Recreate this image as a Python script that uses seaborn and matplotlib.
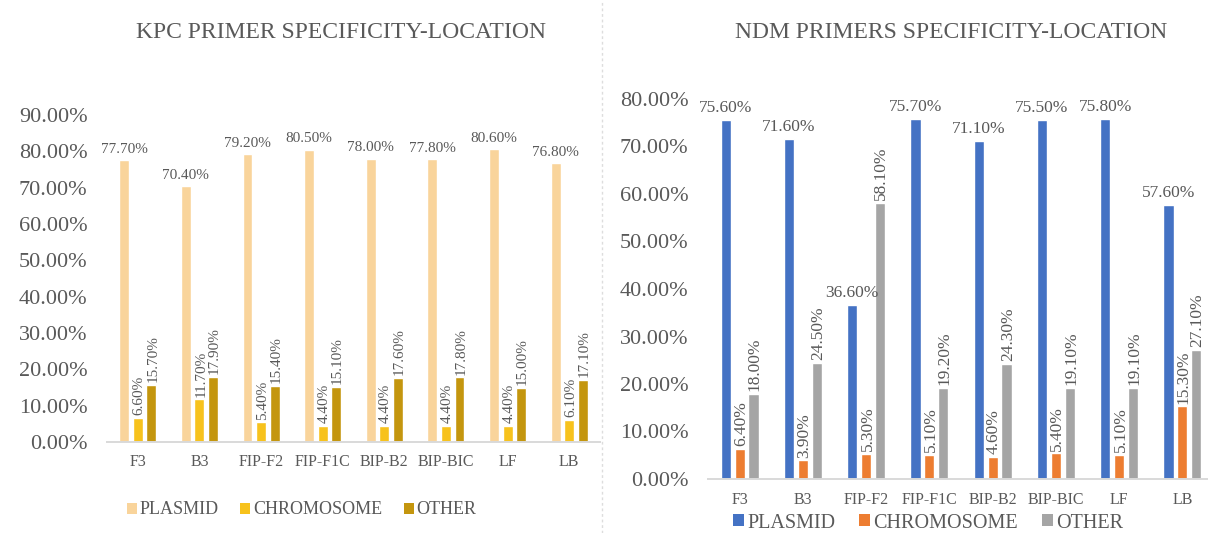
import numpy as np
import pandas as pd
import matplotlib
matplotlib.use("Agg")
import matplotlib.pyplot as plt
from matplotlib.patches import Patch
from matplotlib.lines import Line2D
import seaborn as sns

# Primer regions (shared by both panels)
primers = ["F3", "B3", "FIP-F2", "FIP-F1C", "BIP-B2", "BIP-BIC", "LF", "LB"]
locations = ["PLASMID", "CHROMOSOME", "OTHER"]

# KPC primer hits by location (%)
kpc_plasmid = [77.7, 70.4, 79.2, 80.5, 78.0, 77.8, 80.6, 76.8]
kpc_chromosome = [6.6, 11.7, 5.4, 4.4, 4.4, 4.4, 4.4, 6.1]
kpc_other = [15.7, 17.9, 15.4, 15.1, 17.6, 17.8, 15.0, 17.1]

# NDM primer hits by location (%)
ndm_plasmid = [75.6, 71.6, 36.6, 75.7, 71.1, 75.5, 75.8, 57.6]
ndm_chromosome = [6.4, 3.9, 5.3, 5.1, 4.6, 5.4, 5.1, 15.3]
ndm_other = [18.0, 24.5, 58.1, 19.2, 24.3, 19.1, 19.1, 27.1]

kpc_title = "KPC PRIMER SPECIFICITY-LOCATION"
ndm_title = "NDM PRIMERS SPECIFICITY-LOCATION"

kpc_colors = ["#F9D49B", "#F7C21C", "#C4960E"]
ndm_colors = ["#4472C4", "#ED7D31", "#A5A5A5"]

TEXT = "#595959"
FONT = ["Liberation Serif", "DejaVu Serif"]

sns.set_theme(style="white")
plt.rcParams["font.family"] = FONT


def long_frame(series):
    rows = []
    for loc, vals in zip(locations, series):
        for p, v in zip(primers, vals):
            rows.append({"primer": p, "location": loc, "value": v / 100.0})
    return pd.DataFrame(rows)


def draw_panel(ax, series, colors, ymax, ystep, label_size):
    df = long_frame(series)
    sns.barplot(data=df, x="primer", y="value", hue="location",
                order=primers, hue_order=locations, palette=colors,
                width=0.66, gap=0.27, saturation=1, legend=False,
                errorbar=None, ax=ax)
    ax.set_xlim(-0.5, len(primers) - 0.5)
    ax.set_ylim(0, ymax)
    ax.set_yticks(np.arange(0, ymax + 1e-9, ystep))
    ax.yaxis.set_major_formatter(matplotlib.ticker.FuncFormatter(
        lambda v, _: f"{v * 100:.2f}%"))
    ax.set_xlabel("")
    ax.set_ylabel("")
    for s in ["top", "right", "left"]:
        ax.spines[s].set_visible(False)
    ax.spines["bottom"].set_color("#D9D9D9")
    ax.spines["bottom"].set_linewidth(1.4)
    ax.tick_params(axis="y", length=0, pad=14, labelsize=16, labelcolor=TEXT)
    ax.tick_params(axis="x", length=0, pad=9, labelsize=11.5, labelcolor=TEXT)
    ax.grid(False)
    ax.patch.set_alpha(0)

    # value labels: plasmid horizontal, the others rotated
    for k, (cont, vals) in enumerate(zip(ax.containers, series)):
        for bar, v in zip(cont.patches, vals):
            x = bar.get_x() + bar.get_width() / 2
            h = bar.get_height()
            if k == 0:
                ax.annotate(f"{v:.2f}%", (x, h), xytext=(0, 3),
                            textcoords="offset points", ha="center",
                            va="bottom", fontsize=label_size, color=TEXT,
                            annotation_clip=False)
            else:
                ax.annotate(f"{v:.2f}%", (x, h), xytext=(1, 2),
                            textcoords="offset points", ha="center",
                            va="bottom", rotation=90, fontsize=label_size,
                            color=TEXT, annotation_clip=False)


fig = plt.figure(figsize=(12.08, 5.33), dpi=100)
fig.patch.set_facecolor("white")

W, H = 1208.0, 533.0
# left panel: x 107..600 px, y 0% at 442 px, 90% at 115 px
ax1 = fig.add_axes([107 / W, 1 - 442 / H, (600 - 107) / W, (442 - 115) / H])
# right panel: x 708..1214 px, y 0% at 479 px, 80% at 99 px
ax2 = fig.add_axes([708 / W, 1 - 479 / H, (1214 - 708) / W, (479 - 99) / H])

draw_panel(ax1, [kpc_plasmid, kpc_chromosome, kpc_other], kpc_colors,
           0.9, 0.1, 11)
draw_panel(ax2, [ndm_plasmid, ndm_chromosome, ndm_other], ndm_colors,
           0.8, 0.1, 12.5)

fig.text(341 / W, 1 - 33 / H, kpc_title, ha="center", va="center",
         fontsize=17, color=TEXT)
fig.text(951 / W, 1 - 33 / H, ndm_title, ha="center", va="center",
         fontsize=17, color=TEXT)

# faint divider between the two charts
fig.add_artist(Line2D([602 / W, 602 / W], [0, 1], transform=fig.transFigure,
                      color="#DDDDDD", linewidth=1, linestyle=(0, (2, 2))))

h1 = [Patch(facecolor=c, edgecolor="none") for c in kpc_colors]
fig.legend(h1, locations, loc="center left",
           bbox_to_anchor=(127 / W, 1 - 510 / H), ncol=3, frameon=False,
           fontsize=13, handlelength=0.55, handleheight=0.55,
           handletextpad=0.15, columnspacing=1.2, labelcolor=TEXT,
           borderaxespad=0, borderpad=0)

h2 = [Patch(facecolor=c, edgecolor="none") for c in ndm_colors]
fig.legend(h2, locations, loc="center left",
           bbox_to_anchor=(733 / W, 1 - 523 / H), ncol=3, frameon=False,
           fontsize=14.5, handlelength=0.55, handleheight=0.55,
           handletextpad=0.15, columnspacing=1.2, labelcolor=TEXT,
           borderaxespad=0, borderpad=0)

fig.savefig("out.png", dpi=100, facecolor="white")
